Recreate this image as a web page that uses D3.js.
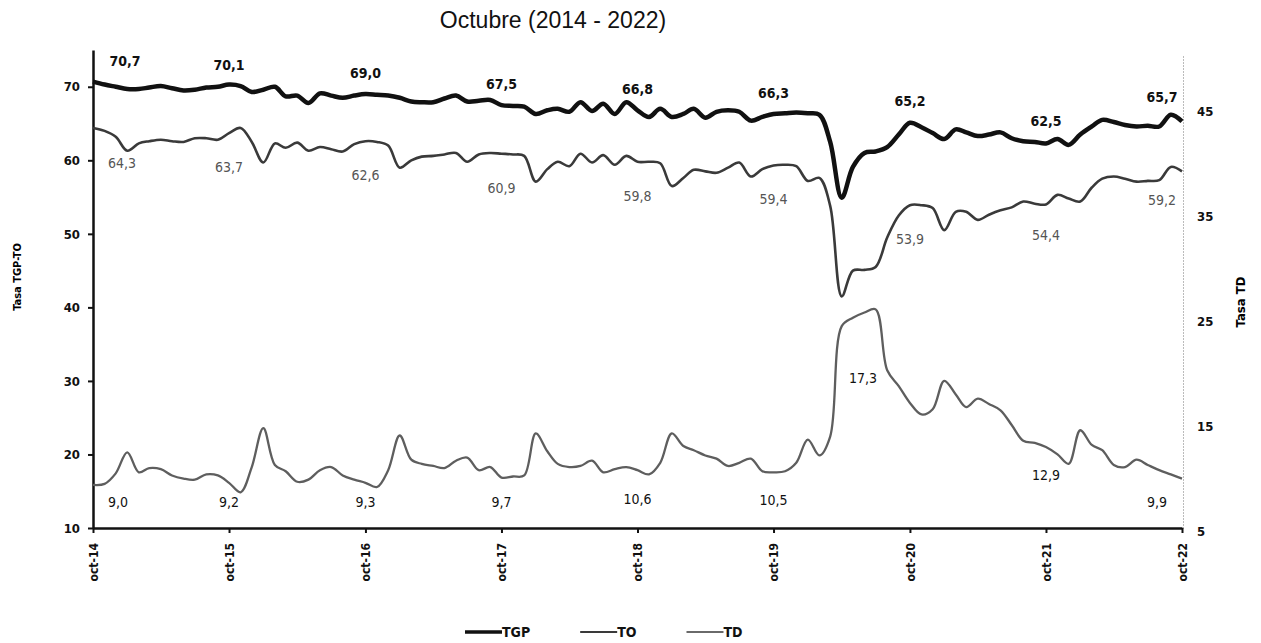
<html>

<head>
  <meta charset="utf-8">
  <title>TGP, TO y TD - Octubre (2014 - 2022)</title>
  <script src="https://d3js.org/d3.v7.min.js"></script>
  <style>
    body {
      margin: 0;
      background: #fff;
    }

    svg text {
      font-family: "DejaVu Sans Condensed", "DejaVu Sans", sans-serif;
    }

    .title {
      font-family: "Liberation Sans", Arial, sans-serif !important;
    }

    .axis text {
      font-weight: bold;
      fill: #111;
    }
  </style>
</head>

<body>
  <svg id="chart" width="1261" height="643"></svg>

  <script>
    // monthly series, oct-14 .. oct-22
    const tgp = [70.7, 70.3, 70.0, 69.7, 69.7, 69.9, 70.1, 69.8, 69.5, 69.6,
      69.9, 70.0, 70.3, 70.1, 69.3, 69.6, 70.0, 68.7, 68.8, 67.8,
      69.1, 68.8, 68.5, 68.8, 69.0, 68.9, 68.8, 68.5, 68.0, 67.9,
      67.9, 68.4, 68.8, 68.0, 68.1, 68.2, 67.5, 67.4, 67.3, 66.3,
      66.8, 67.0, 66.6, 67.9, 66.7, 67.7, 66.3, 67.9, 66.8, 65.9,
      67.0, 65.9, 66.3, 67.0, 65.8, 66.6, 66.8, 66.6, 65.4, 65.9,
      66.3, 66.4, 66.5, 66.4, 66.2, 62.5, 54.9, 59.1, 61.0, 61.2,
      61.8, 63.5, 65.1, 64.5, 63.7, 62.9, 64.2, 63.8, 63.3, 63.5,
      63.8, 63.0, 62.6, 62.5, 62.3, 62.9, 62.1, 63.5, 64.6, 65.5,
      65.2, 64.8, 64.6, 64.7, 64.6, 66.2, 65.3];

    const to = [64.4, 64.0, 63.2, 61.3, 62.3, 62.6, 62.8, 62.6, 62.5, 63.0,
      63.0, 62.8, 63.7, 64.4, 62.5, 59.7, 62.3, 61.7, 62.4, 61.3,
      61.8, 61.5, 61.2, 62.2, 62.6, 62.5, 62.0, 59.0, 60.0, 60.5,
      60.6, 60.8, 61.0, 59.8, 60.8, 61.0, 60.9, 60.8, 60.6, 57.1,
      58.8, 59.8, 59.2, 60.9, 59.7, 60.7, 59.4, 60.6, 59.8, 59.8,
      59.6, 56.5, 57.6, 58.7, 58.5, 58.3, 59.0, 59.7, 57.8, 58.8,
      59.3, 59.4, 59.2, 57.2, 57.6, 53.8, 41.5, 45.0, 45.1, 45.5,
      49.5, 52.5, 53.9, 53.9, 53.5, 50.5, 53.0, 53.0, 51.9, 52.6,
      53.2, 53.6, 54.4, 54.1, 54.0, 55.3, 54.8, 54.4, 56.3, 57.5,
      57.8, 57.5, 57.1, 57.2, 57.3, 59.1, 58.5];

    const td = [9.1, 9.2, 10.2, 12.2, 10.3, 10.7, 10.6, 10.0, 9.7, 9.6,
      10.1, 10.0, 9.3, 8.4, 10.8, 14.5, 11.0, 10.4, 9.4, 9.6,
      10.5, 10.8, 10.0, 9.6, 9.3, 8.9, 10.5, 13.8, 11.5, 11.1,
      10.9, 10.7, 11.4, 11.7, 10.5, 10.8, 9.8, 9.9, 10.0, 14.0,
      12.3, 11.1, 10.8, 10.9, 11.4, 10.3, 10.6, 10.8, 10.5, 10.1,
      11.2, 14.0, 12.8, 12.4, 11.9, 11.6, 10.9, 11.2, 11.6, 10.4,
      10.3, 10.4, 11.2, 13.4, 11.9, 13.7, 24.2, 25.0, 25.5, 25.8,
      20.0, 18.5, 16.9, 15.8, 16.3, 19.0, 17.7, 16.5, 17.3, 16.8,
      16.2, 14.8, 13.3, 13.1, 12.7, 12.0, 11.1, 14.3, 12.9, 12.4,
      11.0, 10.8, 11.5, 11.0, 10.5, 10.1, 9.7];

    // October values shown as labels
    const labelsTGP = [70.7, 70.1, 69.0, 67.5, 66.8, 66.3, 65.2, 62.5, 65.7];
    const labelsTO = [64.3, 63.7, 62.6, 60.9, 59.8, 59.4, 53.9, 54.4, 59.2];
    const labelsTD = [9.0, 9.2, 9.3, 9.7, 10.6, 10.5, 17.3, 12.9, 9.9];

    const leftTicks = [10, 20, 30, 40, 50, 60, 70];
    const rightTicks = [5, 15, 25, 35, 45];
    const seriesNames = ["TGP", "TO", "TD"];

    const svg = d3.select("svg#chart");
    const margins = { "top": 50, "left": 93, "right": 1182, "bottom": 528 };

    const startDate = new Date(2014, 9, 1);
    const dates = tgp.map((d, i) => d3.timeMonth.offset(startDate, i));
    const octDates = labelsTGP.map((d, i) => d3.timeYear.offset(startDate, i));

    const xScale = d3.scaleTime()
      .domain([startDate, dates[dates.length - 1]])
      .range([margins.left, margins.right]);
    const yLeft = d3.scaleLinear().domain([10, 75]).range([margins.bottom, margins.top]);
    const yRight = d3.scaleLinear().domain([5, 50]).range([margins.bottom, 55]);

    const fmt = v => d3.format(".1f")(v).replace(".", ",");
    const octFmt = d => "oct-" + d3.timeFormat("%y")(d);

    // title
    svg.append("text")
      .attr("class", "title")
      .attr("x", 553)
      .attr("y", 28)
      .attr("text-anchor", "middle")
      .style("font-size", "23px")
      .style("fill", "#111")
      .text("Octubre (2014 - 2022)");

    // left axis
    let leftAxis = d3.axisLeft(yLeft)
      .tickValues(leftTicks)
      .tickSize(5)
      .tickSizeOuter(0)
      .tickPadding(8);
    let gLeft = svg.append("g")
      .attr("class", "axis y left")
      .attr("transform", `translate(${margins.left},0)`)
      .call(leftAxis);
    gLeft.select(".domain").attr("stroke", "#111").attr("stroke-width", 2.5);
    gLeft.selectAll(".tick line").attr("stroke", "#111").attr("stroke-width", 2);
    gLeft.selectAll(".tick text").style("font-size", "13px");

    // right axis (dotted)
    let rightAxis = d3.axisRight(yRight)
      .tickValues(rightTicks)
      .tickSize(0)
      .tickSizeOuter(0)
      .tickPadding(14);
    let gRight = svg.append("g")
      .attr("class", "axis y right")
      .attr("transform", `translate(${margins.right + 1},0)`)
      .call(rightAxis);
    gRight.select(".domain")
      .attr("stroke", "#777")
      .attr("stroke-width", 1)
      .attr("stroke-dasharray", "1,2");
    gRight.selectAll(".tick text")
      .attr("dy", "0.6em")
      .style("font-size", "13px");

    // bottom axis
    let bottomAxis = d3.axisBottom(xScale)
      .tickValues(octDates)
      .tickFormat(octFmt)
      .tickSize(5)
      .tickSizeOuter(0);
    let gBottom = svg.append("g")
      .attr("class", "axis x")
      .attr("transform", `translate(0,${margins.bottom})`)
      .call(bottomAxis);
    gBottom.select(".domain").attr("stroke", "#111").attr("stroke-width", 2.5);
    gBottom.selectAll(".tick line").attr("stroke", "#111").attr("stroke-width", 2);
    gBottom.selectAll(".tick text")
      .attr("transform", "rotate(-90)")
      .attr("x", -15)
      .attr("y", 0)
      .attr("dy", "0.35em")
      .attr("text-anchor", "end")
      .style("font-size", "12px");

    // axis titles
    svg.append("text")
      .attr("transform", "translate(21,277) rotate(-90)")
      .attr("text-anchor", "middle")
      .style("font-size", "11px")
      .style("font-weight", "bold")
      .text("Tasa TGP-TO");

    svg.append("text")
      .attr("transform", "translate(1245,302) rotate(-90)")
      .attr("text-anchor", "middle")
      .style("font-size", "13px")
      .style("font-weight", "bold")
      .text("Tasa TD");

    // lines
    const lineLeft = d3.line()
      .x((d, i) => xScale(dates[i]))
      .y(d => yLeft(d))
      .curve(d3.curveCatmullRom);
    const lineRight = d3.line()
      .x((d, i) => xScale(dates[i]))
      .y(d => yRight(d))
      .curve(d3.curveCatmullRom);

    let lineArea = svg.append("g").attr("id", "lines");
    lineArea.append("path").datum(td)
      .attr("d", lineRight)
      .attr("fill", "none")
      .attr("stroke", "#5e5e5e")
      .attr("stroke-width", 2.3);
    lineArea.append("path").datum(to)
      .attr("d", lineLeft)
      .attr("fill", "none")
      .attr("stroke", "#3a3a3a")
      .attr("stroke-width", 2.6);
    lineArea.append("path").datum(tgp)
      .attr("d", lineLeft)
      .attr("fill", "none")
      .attr("stroke", "#111")
      .attr("stroke-width", 4.5);

    // data labels
    const labelX = (i, firstShift, lastShift) => {
      let x = xScale(octDates[i]);
      if (i === 0) x += firstShift;
      if (i === octDates.length - 1) x -= lastShift;
      return x;
    };

    let labelArea = svg.append("g").attr("id", "labels");

    labelArea.selectAll("text.tgp").data(labelsTGP)
      .join("text")
      .attr("class", "tgp")
      .attr("x", (d, i) => labelX(i, 32, 20))
      .attr("y", d => yLeft(d) - 21)
      .attr("dy", "0.35em")
      .attr("text-anchor", "middle")
      .style("font-size", "14px")
      .style("font-weight", "bold")
      .style("fill", "#111")
      .text(fmt);

    labelArea.selectAll("text.to").data(labelsTO)
      .join("text")
      .attr("class", "to")
      .attr("x", (d, i) => labelX(i, 29, 20))
      .attr("y", d => yLeft(d) + 34)
      .attr("dy", "0.35em")
      .attr("text-anchor", "middle")
      .style("font-size", "14px")
      .style("fill", "#555")
      .text(fmt);

    labelArea.selectAll("text.td").data(labelsTD)
      .join("text")
      .attr("class", "td")
      .attr("x", (d, i) => i === 6 ? labelX(i, 0, 0) - 47 : labelX(i, 25, 25))
      .attr("y", (d, i) => i === 6 ? yRight(d) - 21 : Math.min(yRight(d) + 30, margins.bottom - 26))
      .attr("dy", "0.35em")
      .attr("text-anchor", "middle")
      .style("font-size", "14px")
      .style("fill", "#111")
      .text(fmt);

    // legend
    const legendStyles = [
      { color: "#111", width: 3.5 },
      { color: "#3a3a3a", width: 2.2 },
      { color: "#6a6a6a", width: 2.2 }
    ];
    let legend = svg.append("g").attr("id", "legend");
    let lx = 465;
    seriesNames.forEach((name, i) => {
      legend.append("line")
        .attr("x1", lx).attr("x2", lx + 37)
        .attr("y1", 632).attr("y2", 632)
        .attr("stroke", legendStyles[i].color)
        .attr("stroke-width", legendStyles[i].width);
      let t = legend.append("text")
        .attr("x", lx + 37)
        .attr("y", 632)
        .attr("dy", "0.35em")
        .style("font-size", "14px")
        .style("font-weight", "bold")
        .style("fill", "#111")
        .text(name);
      lx += 37 + t.node().getComputedTextLength() + 50;
    });
  </script>
</body>

</html>
